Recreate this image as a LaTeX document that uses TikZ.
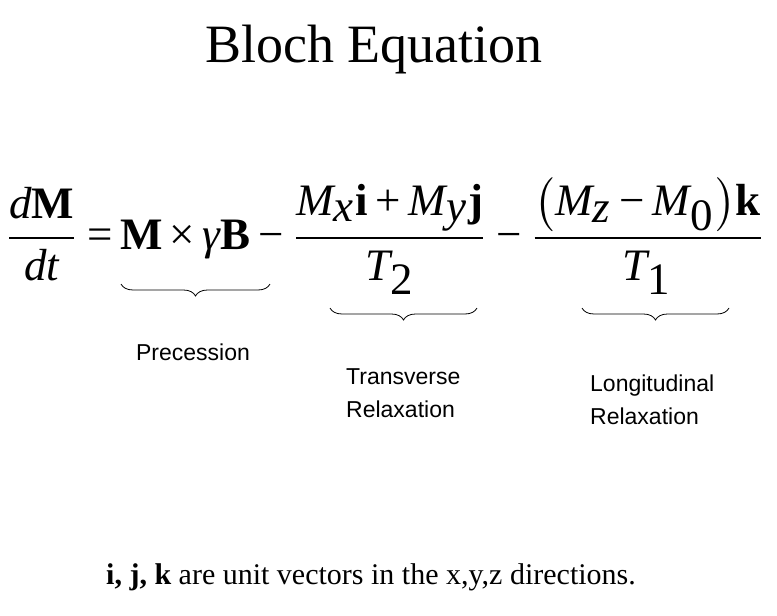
\documentclass[tikz,border=0pt]{standalone}
\usepackage{fontspec}
\setmainfont{Liberation Serif}
\newfontfamily\sansf{Liberation Sans}
\usepackage{graphicx}
\usetikzlibrary{decorations.pathreplacing}
\newcommand\It[1]{\mbox{\itshape #1}}
\newcommand\Bf[1]{\mbox{\bfseries #1}}
\newcommand\Tx[1]{\mbox{#1}}
\begin{document}
\begin{tikzpicture}[x=1pt,y=-1pt,
  lbl/.style={font=\sansf\fontsize{23}{33}\selectfont,align=left,inner sep=0pt},
  br/.style={decorate,decoration={brace,mirror,amplitude=12pt},line width=0.8pt}]
\useasboundingbox[fill=white] (0,0) rectangle (777,616);
\node[inner sep=0pt,font=\fontsize{54}{60}\selectfont] (title) at (374,50) {Bloch Equation};
\node[inner sep=0pt] (eq) at (385,236) {\resizebox{762pt}{!}{$\displaystyle \frac{\It{d}\Bf{M}}{\It{dt}}\Tx{\,=\,}\Bf{M}\Tx{\,×\,}\It{γ}\Bf{B}\Tx{\,−\,}\frac{\It{M}_{\It{x}}\Bf{i}\Tx{\,+\,}\It{M}_{\It{y}}\Bf{j}}{\It{T}_{\Tx{2}}}\Tx{\,−\,}\frac{\bigl(\It{M}_{\It{z}}\Tx{\,−\,}\It{M}_{\Tx{0}}\bigr)\Bf{k}}{\It{T}_{\Tx{1}}}$}};
\coordinate (a1) at (121,284); \coordinate (a2) at (270,284);
\coordinate (b1) at (330,308); \coordinate (b2) at (477,308);
\coordinate (c1) at (582,308); \coordinate (c2) at (729,308);
\draw[br] (a1) -- (a2);
\draw[br] (b1) -- (b2);
\draw[br] (c1) -- (c2);
\node[lbl] (prec) at (193,352) {Precession};
\node[lbl,anchor=west] (trans) at (346,393) {Transverse\\Relaxation};
\node[lbl,anchor=west] (long) at (590,400) {Longitudinal\\Relaxation};
\node[inner sep=0pt,font=\fontsize{30}{36}\selectfont] (foot) at (371,577) {\textbf{i, j, k} are unit vectors in the x,y,z directions.};
\end{tikzpicture}
\end{document}
